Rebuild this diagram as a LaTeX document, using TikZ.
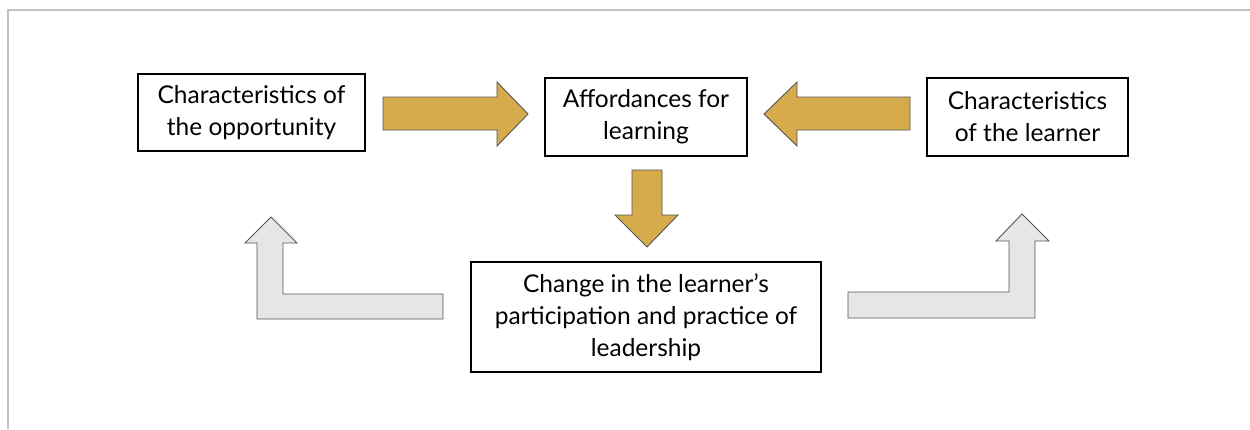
\documentclass[tikz,border=0pt]{standalone}
\usepackage{fontspec}
\setmainfont{Lato}
\begin{document}
\begin{tikzpicture}[x=1pt,y=-1pt,
  every node/.style={font=\fontsize{24.5}{32}\selectfont},
  box/.style={draw=black,line width=1.8pt,fill=white,align=center,inner sep=0pt},
  goldarrow/.style={fill=gold,draw=edgegrey,line width=0.9pt,line join=miter},
  greyarrow/.style={fill=lightgrey,draw=edgegrey,line width=0.9pt,line join=miter}]
\definecolor{gold}{HTML}{D6AB4C}
\definecolor{lightgrey}{HTML}{E6E6E6}
\definecolor{edgegrey}{HTML}{555555}
\definecolor{framegrey}{HTML}{C0C0C0}
\useasboundingbox (0,0) rectangle (1250,429);
% page frame
\draw[framegrey,line width=1.6pt] (8,429) -- (8,10) -- (1250,10);

% text boxes
\node[box,minimum width=227pt,minimum height=77pt] (opp) at (251.5,112.5) {Characteristics of\\the opportunity};
\node[box,minimum width=202pt,minimum height=78pt] (aff) at (646,117) {Affordances for\\learning};
\node[box,minimum width=201pt,minimum height=78pt] (lrn) at (1027.5,117) {Characteristics\\of the learner};
\node[box,minimum width=350pt,minimum height=110pt] (chg) at (646,317) {Change in the learner’s\\participation and practice of\\leadership};

% block arrows into the affordances box
\draw[goldarrow] (383,97) -- (497,97) -- (497,82) -- (528,114) -- (497,146) -- (497,130) -- (383,130) -- cycle;
\draw[goldarrow] (910,97) -- (797,97) -- (797,82) -- (764,114) -- (797,146) -- (797,130) -- (910,130) -- cycle;
\draw[goldarrow] (632,170) -- (662,170) -- (662,215) -- (678,215) -- (647,247) -- (615,215) -- (632,215) -- cycle;

% feedback arrows from the change box
\draw[greyarrow] (443,294) -- (283,294) -- (283,243) -- (297,243) -- (271,217) -- (245,243) -- (257,243) -- (257,319) -- (443,319) -- cycle;
\draw[greyarrow] (848,292) -- (1009,292) -- (1009,241) -- (996,241) -- (1022,214) -- (1049,241) -- (1035,241) -- (1035,318) -- (848,318) -- cycle;
\end{tikzpicture}
\end{document}
